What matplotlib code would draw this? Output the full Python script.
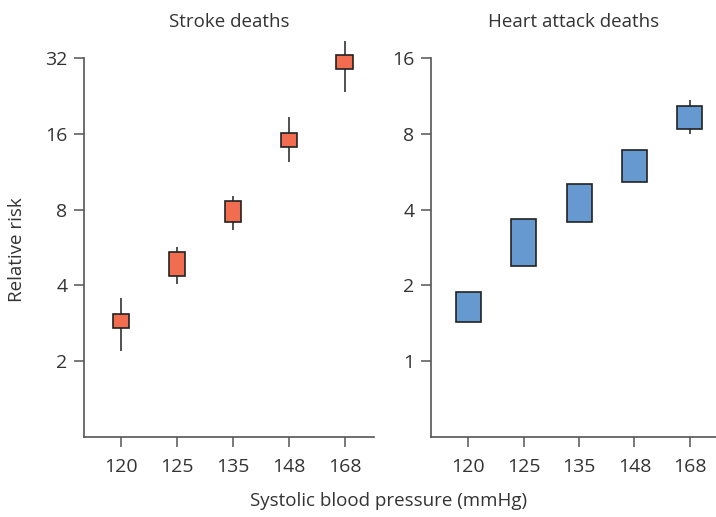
# 收缩压与中风/心梗相对风险 - 两个对数坐标小图
import numpy as np
import matplotlib
matplotlib.use('Agg')
import matplotlib.pyplot as plt

plt.rcParams['font.family'] = ['Open Sans', 'DejaVu Sans']

# 数据
pressure = ['120', '125', '135', '148', '168']

stroke_box_lo = [2.70, 4.34, 7.11, 14.2, 28.9]
stroke_box_hi = [3.07, 5.41, 8.62, 16.1, 32.9]
stroke_ci_lo = [2.19, 4.07, 6.61, 12.4, 23.5]
stroke_ci_hi = [3.56, 5.66, 9.10, 18.7, 37.4]

heart_box_lo = [1.43, 2.38, 3.56, 5.16, 8.37]
heart_box_hi = [1.89, 3.68, 5.07, 6.92, 10.33]
heart_ci_lo = [1.43, 2.38, 3.56, 5.16, 8.0]
heart_ci_hi = [1.89, 3.68, 5.07, 6.92, 10.9]

stroke_ticks = [2, 4, 8, 16, 32]
heart_ticks = [1, 2, 4, 8, 16]

fig = plt.figure(figsize=(7.16, 5.17), dpi=100)
ax1 = fig.add_axes([84 / 716, 80 / 517, 290 / 716, 379 / 517])
ax2 = fig.add_axes([431 / 716, 80 / 517, 285 / 716, 379 / 517])

text_color = '#333333'
spine_color = '#555555'


def draw_panel(ax, lo, hi, ci_lo, ci_hi, color, width, ticks, ylim, xlim, title):
    x = np.arange(len(pressure))
    ax.set_yscale('log', base=2)
    ax.vlines(x, ci_lo, ci_hi, color='#333333', lw=1.2, zorder=1, clip_on=False)
    ax.bar(x, np.array(hi) - np.array(lo), bottom=lo, width=width,
           color=color, edgecolor='#222222', linewidth=1.2, zorder=2, clip_on=False)
    ax.set_ylim(*ylim)
    ax.set_xlim(*xlim)
    ax.set_xticks(x)
    ax.set_xticklabels(pressure)
    ax.set_yticks(ticks)
    ax.set_yticklabels([str(t) for t in ticks])
    ax.minorticks_off()
    ax.spines['top'].set_visible(False)
    ax.spines['right'].set_visible(False)
    for s in ['left', 'bottom']:
        ax.spines[s].set_color(spine_color)
        ax.spines[s].set_linewidth(1.2)
    ax.spines['left'].set_bounds(ylim[0], ticks[-1])
    ax.tick_params(axis='both', length=7, width=1.1, color=spine_color,
                   labelsize=14, labelcolor=text_color)
    ax.tick_params(axis='x', pad=8)
    ax.tick_params(axis='y', pad=5)
    ax.set_title(title, fontsize=13.5, color=text_color, pad=22)


draw_panel(ax1, stroke_box_lo, stroke_box_hi, stroke_ci_lo, stroke_ci_hi,
           '#F26D50', 0.30, stroke_ticks, (1, 32), (-0.66, 4.52), 'Stroke deaths')
draw_panel(ax2, heart_box_lo, heart_box_hi, heart_ci_lo, heart_ci_hi,
           '#6699D0', 0.45, heart_ticks, (0.5, 16), (-0.67, 4.47), 'Heart attack deaths')

fig.text(17 / 716, 1 - 250 / 517, 'Relative risk', rotation=90, ha='center', va='center',
         fontsize=13.5, color=text_color)
fig.text(389 / 716, 1 - 501 / 517, 'Systolic blood pressure (mmHg)', ha='center', va='center',
         fontsize=13.5, color=text_color)

fig.savefig('out.png', dpi=100)
